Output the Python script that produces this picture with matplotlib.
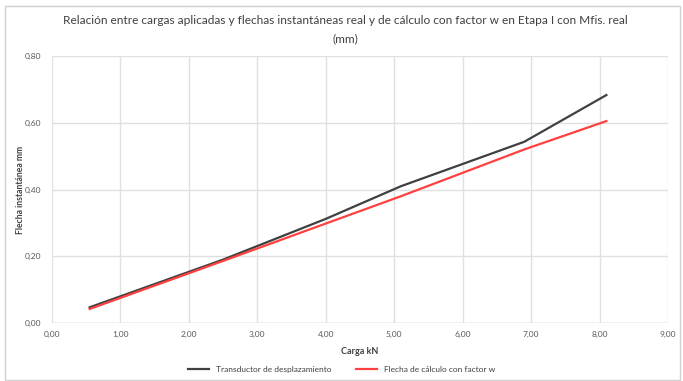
import numpy as np
import matplotlib.pyplot as plt
from matplotlib.patches import Rectangle

plt.rcParams['font.family'] = ['Lato', 'DejaVu Sans']

carga = [0.55, 2.5, 4.0, 5.1, 6.9, 8.1]
transductor = [0.047, 0.19, 0.312, 0.41, 0.543, 0.683]
flecha_calc = [0.042, 0.186, 0.298, 0.38, 0.52, 0.605]

xticks = np.arange(0, 9.01, 1.0)
yticks = np.arange(0, 0.81, 0.2)

fig = plt.figure(figsize=(6.83, 3.81), dpi=100)
fig.patches.append(Rectangle((0.007, 0.003), 0.988, 0.982, transform=fig.transFigure,
                             fill=False, edgecolor='#d0d0d0', linewidth=1.0))

ax = fig.add_axes([52/683, 1 - 323/381, 616/683, 267/381])
ax.plot(carga, transductor, color='#404040', lw=1.6, label='Transductor de desplazamiento')
ax.plot(carga, flecha_calc, color='#ff4040', lw=1.6, label='Flecha de cálculo con factor w')

ax.set_xlim(0, 9)
ax.set_ylim(0, 0.8)
ax.set_xticks(xticks)
ax.set_yticks(yticks)
ax.set_xticklabels([f'{v:.2f}'.replace('.', ',') for v in xticks])
ax.set_yticklabels([f'{v:.2f}'.replace('.', ',') for v in yticks])
ax.tick_params(length=0, labelsize=6, colors='#595959', pad=6)
ax.tick_params(axis='y', pad=8)
ax.grid(True, color='#e0e0e0', lw=1.0)
for s in ax.spines.values():
    s.set_visible(False)
ax.axhline(0, color='#d0d0d0', lw=1.0)

ax.set_xlabel('Carga kN', fontsize=6.5, weight='bold', color='#404040', labelpad=6)
ax.set_ylabel('Flecha instantánea mm', fontsize=6.2, weight='bold', color='#404040')
ax.yaxis.set_label_coords(-27/616, 0.5)

fig.text(0.505, 0.945, 'Relación entre cargas aplicadas y flechas instantáneas real y de cálculo con factor w en Etapa I con Mfis. real',
         ha='center', va='center', fontsize=8.6, color='#404040')
fig.text(0.505, 0.898, '(mm)', ha='center', va='center', fontsize=8.6, color='#404040')

fig.legend(loc='center', bbox_to_anchor=(0.5, 0.03), ncol=2, frameon=False,
           fontsize=6, handlelength=2.5, columnspacing=3, labelcolor='#404040')

plt.savefig('out.png', dpi=100)
